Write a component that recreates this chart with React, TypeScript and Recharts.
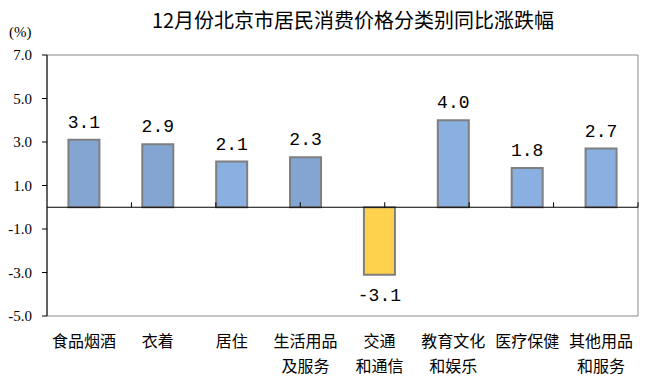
import React from 'react';
import { BarChart, Bar, XAxis, YAxis, Cell, LabelList, ReferenceLine, ReferenceArea } from 'recharts';

const categories: string[][] = [
  ['食品烟酒'],
  ['衣着'],
  ['居住'],
  ['生活用品', '及服务'],
  ['交通', '和通信'],
  ['教育文化', '和娱乐'],
  ['医疗保健'],
  ['其他用品', '和服务'],
];
const values = [3.1, 2.9, 2.1, 2.3, -3.1, 4.0, 1.8, 2.7];
const yTicks = [-5, -3, -1, 1, 3, 5, 7];
const boundaries = [1, 2, 3, 4, 5, 6, 7];

const barColors = ['#84A5D1', '#84A5D1', '#8AB0E1', '#84A5D1', '#FFD24D', '#8AB0E1', '#8AB0E1', '#8AB0E1'];

const data = categories.map((lines, i) => ({ name: lines.join('\n'), value: values[i] }));

const CategoryTick = (props: any) => {
  const { x, y, payload } = props;
  const lines = String(payload.value).split('\n');
  return (
    <g>
      {lines.map((t, i) => (
        <text
          key={i}
          x={x}
          y={y + 23 + i * 25}
          textAnchor="middle"
          fontSize={16}
          fontFamily="'Noto Sans CJK SC', sans-serif"
          fill="#000"
        >
          {t}
        </text>
      ))}
    </g>
  );
};

const ValueLabel = (props: any) => {
  const { x, y, width, height, value } = props;
  const top = Math.min(y, y + height);
  const bottom = Math.max(y, y + height);
  const cx = x + width / 2;
  const neg = value < 0;
  return (
    <text
      x={cx}
      y={neg ? bottom + 26 : top - 12}
      textAnchor="middle"
      fontSize={18}
      fontFamily="'Liberation Mono', monospace"
      fill="#000"
    >
      {Number(value).toFixed(1)}
    </text>
  );
};

export default function App() {
  return (
    <div style={{ position: 'absolute', left: 0, top: 0, width: 647, height: 389, background: '#fff' }}>
      <div
        style={{
          position: 'absolute',
          left: 0,
          width: 706,
          top: 7,
          textAlign: 'center',
          fontFamily: "'Noto Sans CJK SC', sans-serif",
          fontSize: 20,
          lineHeight: '26px',
          color: '#000',
        }}
      >
        12月份北京市居民消费价格分类别同比涨跌幅
      </div>
      <div
        style={{
          position: 'absolute',
          left: 9,
          top: 24,
          fontFamily: "'Liberation Serif', serif",
          fontSize: 15,
          color: '#000',
        }}
      >
        (%)
      </div>
      <BarChart
        width={647}
        height={389}
        data={data}
        margin={{ top: 55, right: 9, bottom: 0, left: 0 }}
        barCategoryGap="29%"
      >
        <XAxis
          xAxisId="cat"
          dataKey="name"
          axisLine={false}
          tickLine={false}
          tick={<CategoryTick />}
          height={73}
          interval={0}
        />
        <XAxis xAxisId="num" type="number" domain={[0, 8]} hide />
        <YAxis
          domain={[-5, 7]}
          ticks={yTicks}
          interval={0}
          width={47}
          axisLine={{ stroke: '#000' }}
          tickLine={{ stroke: '#000' }}
          tickSize={5}
          tickMargin={10}
          tickFormatter={(v: number) => v.toFixed(1)}
          tick={{ fill: '#000', fontSize: 15, fontFamily: "'Liberation Serif', serif" }}
        />
        <ReferenceArea xAxisId="cat" y1={-5} y2={7} fill="none" stroke="#888" strokeWidth={1} />
        <Bar xAxisId="cat" dataKey="value" stroke="#7F7F7F" strokeWidth={2} isAnimationActive={false}>
          {data.map((d, i) => (
            <Cell key={d.name} fill={barColors[i]} />
          ))}
          <LabelList dataKey="value" content={<ValueLabel />} />
        </Bar>
        <ReferenceLine xAxisId="cat" y={0} stroke="#000" strokeWidth={1} />
        {boundaries.map((b) => (
          <ReferenceLine
            key={b}
            xAxisId="num"
            segment={[{ x: b, y: 0 }, { x: b, y: 0.23 }]}
            stroke="#000"
            strokeWidth={1}
          />
        ))}
      </BarChart>
    </div>
  );
}
